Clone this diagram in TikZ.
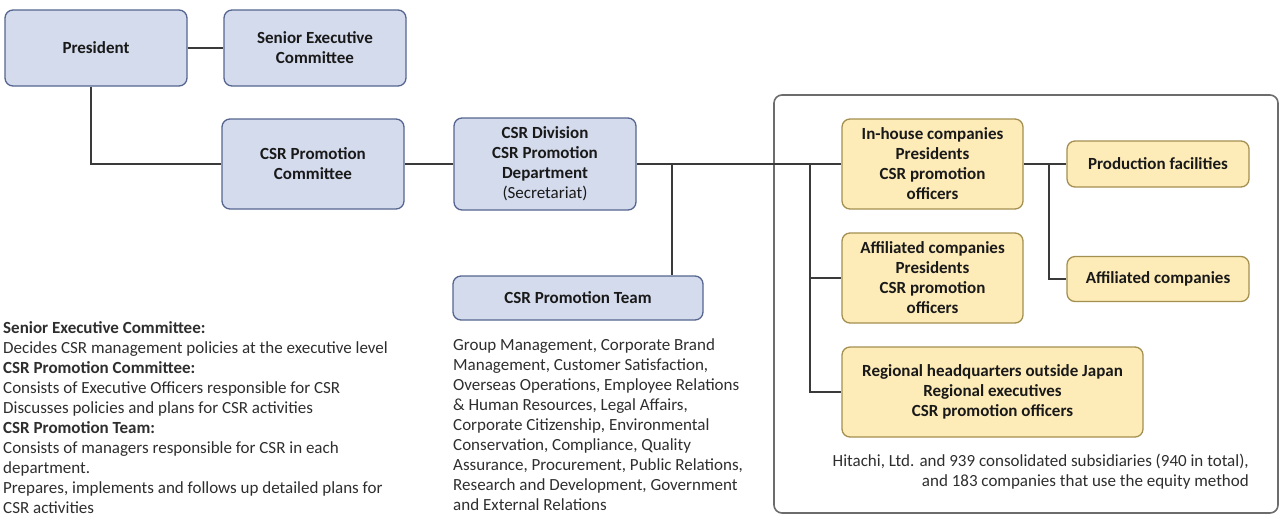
\documentclass[tikz,border=0pt]{standalone}
\usepackage{fontspec}
\setmainfont{Carlito}
\usetikzlibrary{calc,positioning}
\definecolor{boxblue}{HTML}{D4DBED}
\definecolor{lineblue}{HTML}{55658F}
\definecolor{boxyellow}{HTML}{FDEBB8}
\definecolor{lineyellow}{HTML}{A38F4F}
\definecolor{connline}{HTML}{3A3A3A}
\definecolor{bodytext}{HTML}{2E2E2E}
\begin{document}
\begin{tikzpicture}[x=1pt,y=-1pt,inner sep=0pt,
  bluebox/.style={draw=lineblue,fill=boxblue,line width=1.3pt,rounded corners=8pt,align=center,
    font=\bfseries\fontsize{17}{20}\selectfont,text=black!90},
  yellowbox/.style={draw=lineyellow,fill=boxyellow,line width=1.3pt,rounded corners=8pt,align=center,
    font=\bfseries\fontsize{17}{20}\selectfont,text=black!90},
  conn/.style={draw=connline,line width=1.4pt},
  note/.style={font=\fontsize{17}{20}\selectfont,text=bodytext}]
\useasboundingbox (0,0) rectangle (1281,515);

% group frame
\draw [gray!85!black,line width=1.6pt,rounded corners=8pt] (774,95) rectangle (1278,513);

% head office
\node [bluebox,minimum width=182pt,minimum height=76pt] (pres) at (96,48) {President};
\node [bluebox,minimum width=182pt,minimum height=76pt] (sec) at (315,48) {Senior Executive\\Committee};
\node [bluebox,minimum width=182pt,minimum height=90pt] (cpc) at (313,164) {CSR Promotion\\Committee};
\node [bluebox,minimum width=182pt,minimum height=92pt] (div) at (545,164) {CSR Division\\CSR Promotion\\Department\\{\mdseries (Secretariat)}};
\node [bluebox,minimum width=250pt,minimum height=44pt] (team) at (578,298) {CSR Promotion Team};

% group companies
\node [yellowbox,minimum width=181pt,minimum height=90pt] (inh) at (932.5,164) {In-house companies\\Presidents\\CSR promotion\\officers};
\node [yellowbox,minimum width=181pt,minimum height=90pt] (aff) at (932.5,278) {Affiliated companies\\Presidents\\CSR promotion\\officers};
\node [yellowbox,minimum width=301pt,minimum height=90pt] (reg) at (992.5,392) {Regional headquarters outside Japan\\Regional executives\\CSR promotion officers};
\node [yellowbox,minimum width=182pt,minimum height=46pt] (prod) at (1158,164) {Production facilities};
\node [yellowbox,minimum width=182pt,minimum height=45pt] (affc) at (1158,279) {Affiliated companies};

\coordinate (j1) at (672,164);
\coordinate (j2) at (810,164);
\coordinate (j3) at (1049,164);

\draw [conn] (pres) -- (sec);
\draw [conn] ([xshift=-5pt]pres.south) |- (cpc.west);
\draw [conn] (cpc) -- (div);
\draw [conn] (div.east) -- (inh.west);
\draw [conn] (j1) -- (j1 |- team.north);
\draw [conn] (j2) |- (aff.west);
\draw [conn] (j2) |- (reg.west);
\draw [conn] (inh.east) -- (prod.west);
\draw [conn] (j3) |- (affc.west);

% notes
\node [note,anchor=north west,align=left] (legend) at (3,321) {\textbf{Senior Executive Committee:}\\
Decides CSR management policies at the executive level\\
\textbf{CSR Promotion Committee:}\\
Consists of Executive Officers responsible for CSR\\
Discusses policies and plans for CSR activities\\
\textbf{CSR Promotion Team:}\\
Consists of managers responsible for CSR in each\\
department.\\
Prepares, implements and follows up detailed plans for\\
CSR activities};
\node [note,anchor=north west,align=left] (members) at (453,338) {Group Management, Corporate Brand\\
Management, Customer Satisfaction,\\
Overseas Operations, Employee Relations\\
\& Human Resources, Legal Affairs,\\
Corporate Citizenship, Environmental\\
Conservation, Compliance, Quality\\
Assurance, Procurement, Public Relations,\\
Research and Development, Government\\
and External Relations};
\node [note,anchor=north east,align=right] (scope) at (1249,454) {Hitachi, Ltd. and 939 consolidated subsidiaries (940 in total),\\
and 183 companies that use the equity method};

\end{tikzpicture}
\end{document}
